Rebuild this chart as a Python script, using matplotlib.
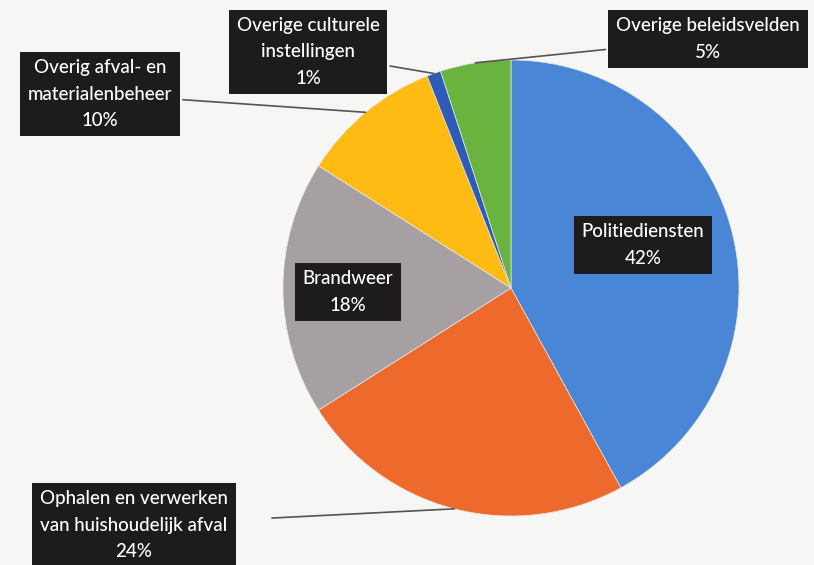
import numpy as np
import matplotlib
matplotlib.use("Agg")
import matplotlib.pyplot as plt

categories = ["Politiediensten", "Ophalen en verwerken\nvan huishoudelijk afval", "Brandweer",
              "Overig afval- en\nmaterialenbeheer", "Overige culturele\ninstellingen", "Overige beleidsvelden"]
values = [42, 24, 18, 10, 1, 5]
colors = ["#4A86D6", "#EE6A2C", "#A7A0A2", "#FDBB14", "#2E5BB5", "#6AB33F"]

W, H = 814, 565
fig = plt.figure(figsize=(W / 100, H / 100), dpi=100)
fig.patch.set_facecolor("#F6F6F4")
ax = fig.add_axes([0, 0, 1, 1])

cx, cy, R = 511, H - 288, 228
wedges, _ = ax.pie(values, colors=colors, startangle=90, counterclock=False,
                   center=(cx, cy), radius=R, frame=True,
                   wedgeprops=dict(linewidth=0.5, edgecolor="#E8E8E6"))
ax.set_xlim(0, W)
ax.set_ylim(0, H)
ax.set_aspect("equal")
ax.axis("off")

# label positions (image px, centre of text) and whether a leader line is drawn
label_pos = [(643, 245), (134, 525), (348, 292), (100, 94), (308, 52), (708, 39)]
leader = [False, True, False, True, True, True]
shrinkA = [0, 26, 0, 2, 2, 2]

font = dict(family=["Lato", "DejaVu Sans"], fontsize=13.5, color="white", fontweight="medium")
for i, (w, v) in enumerate(zip(wedges, values)):
    txt = f"{categories[i]}\n{v}%"
    tx, ty = label_pos[i]
    bbox = dict(boxstyle="square,pad=0.42", fc="#1E1B1C", ec="none")
    if leader[i]:
        ang = np.deg2rad((w.theta1 + w.theta2) / 2)
        px = cx + R * np.cos(ang)
        py = cy + R * np.sin(ang)
        ax.annotate(txt, xy=(px, py), xytext=(tx, H - ty), ha="center", va="center",
                    linespacing=1.65, bbox=bbox,
                    arrowprops=dict(arrowstyle="-", color="#555555", lw=1.2,
                                    shrinkA=shrinkA[i], shrinkB=0), **font)
    else:
        ax.text(tx, H - ty, txt, ha="center", va="center", linespacing=1.65, bbox=bbox, **font)

fig.savefig("out.png", dpi=100, facecolor=fig.get_facecolor())
